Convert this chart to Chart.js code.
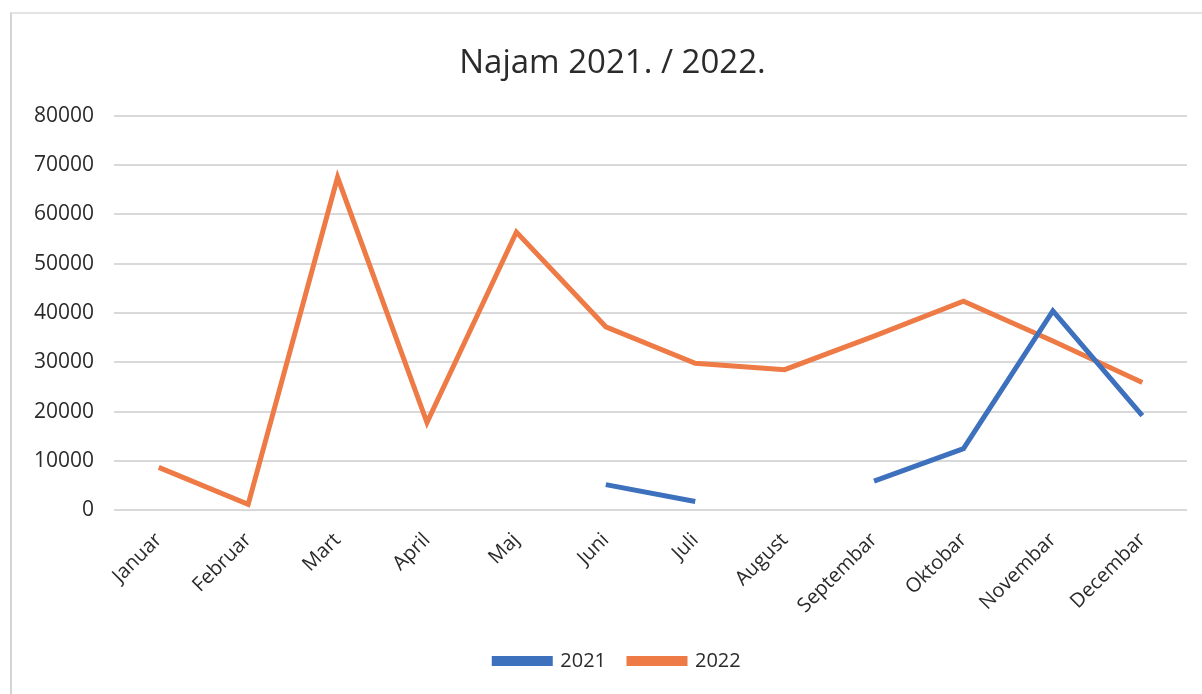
<!DOCTYPE html>
<html>
<head>
<meta charset="utf-8">
<script src="https://cdn.jsdelivr.net/npm/chart.js@4.4.0/dist/chart.umd.min.js"></script>
<style>
    html, body { margin: 0; padding: 0; background: #fff; }
    #wrap { position: relative; width: 1202px; height: 694px; }
    #frame { position: absolute; left: 10px; top: 12px; right: 0; bottom: 0;
             border-left: 2px solid #d4d4d4; border-top: 2px solid #e4e4e4; }
    canvas { position: absolute; left: 0; top: 0; }
</style>
</head>
<body>
<div id="wrap">
    <div id="frame"></div>
    <canvas id="najamChart" width="1202" height="694"></canvas>
</div>
<script>
// Months on the x axis
const months = ['Januar', 'Februar', 'Mart', 'April', 'Maj', 'Juni', 'Juli',
    'August', 'Septembar', 'Oktobar', 'Novembar', 'Decembar'];

// Values per month (null = no data)
const values2021 = [null, null, null, null, null, 5200, 1800, null, 5900, 12500, 40400, 19200];
const values2022 = [8700, 1200, 67500, 17800, 56400, 37200, 29800, 28500, 35300, 42400, 34300, 25900];

// Y axis ticks
const yMin = 0;
const yMax = 80000;
const yStep = 10000;

const textColor = '#2b2b2b';
const gridColor = '#d9d9d9';
const fontFamily = '"Open Sans", Lato, sans-serif';

// Title and legend sit a bit right of the canvas centre in the original
const shiftBlocks = {
    id: 'shiftBlocks',
    afterLayout(chart) {
        if (chart.titleBlock) {
            chart.titleBlock.left += 12;
            chart.titleBlock.right += 12;
        }
        if (chart.legend) {
            chart.legend.left += 17;
            chart.legend.right += 17;
        }
    }
};

const ctx = document.getElementById('najamChart');

new Chart(ctx, {
    type: 'line',
    data: {
        labels: months,
        datasets: [{
            label: '2021',
            data: values2021,
            borderColor: '#3d70bd',
            backgroundColor: '#3d70bd',
            borderWidth: 5,
            pointRadius: 0,
            tension: 0,
            spanGaps: false
        }, {
            label: '2022',
            data: values2022,
            borderColor: '#ee7a46',
            backgroundColor: '#ee7a46',
            borderWidth: 5,
            pointRadius: 0,
            tension: 0,
            spanGaps: false
        }]
    },
    options: {
        responsive: false,
        animation: false,
        layout: {
            padding: { left: 14, right: 15, top: 12, bottom: 13 }
        },
        plugins: {
            title: {
                display: true,
                text: 'Najam 2021. / 2022.',
                color: textColor,
                font: { family: fontFamily, size: 33, weight: 'normal' },
                padding: { top: 32, bottom: 32 }
            },
            legend: {
                position: 'bottom',
                labels: {
                    color: textColor,
                    font: { family: fontFamily, size: 20 },
                    boxWidth: 56,
                    boxHeight: 5,
                    padding: 23
                }
            },
            tooltip: { enabled: false }
        },
        scales: {
            x: {
                offset: true,
                grid: { display: false },
                border: { display: false },
                ticks: {
                    color: textColor,
                    font: { family: fontFamily, size: 20 },
                    maxRotation: 45,
                    minRotation: 45,
                    padding: 10
                }
            },
            y: {
                min: yMin,
                max: yMax,
                border: { display: false },
                grid: { color: gridColor, lineWidth: 2, drawTicks: false },
                ticks: {
                    stepSize: yStep,
                    color: textColor,
                    font: { family: fontFamily, size: 21 },
                    padding: 20,
                    callback: value => String(value)
                }
            }
        }
    },
    plugins: [shiftBlocks]
});
</script>
</body>
</html>
